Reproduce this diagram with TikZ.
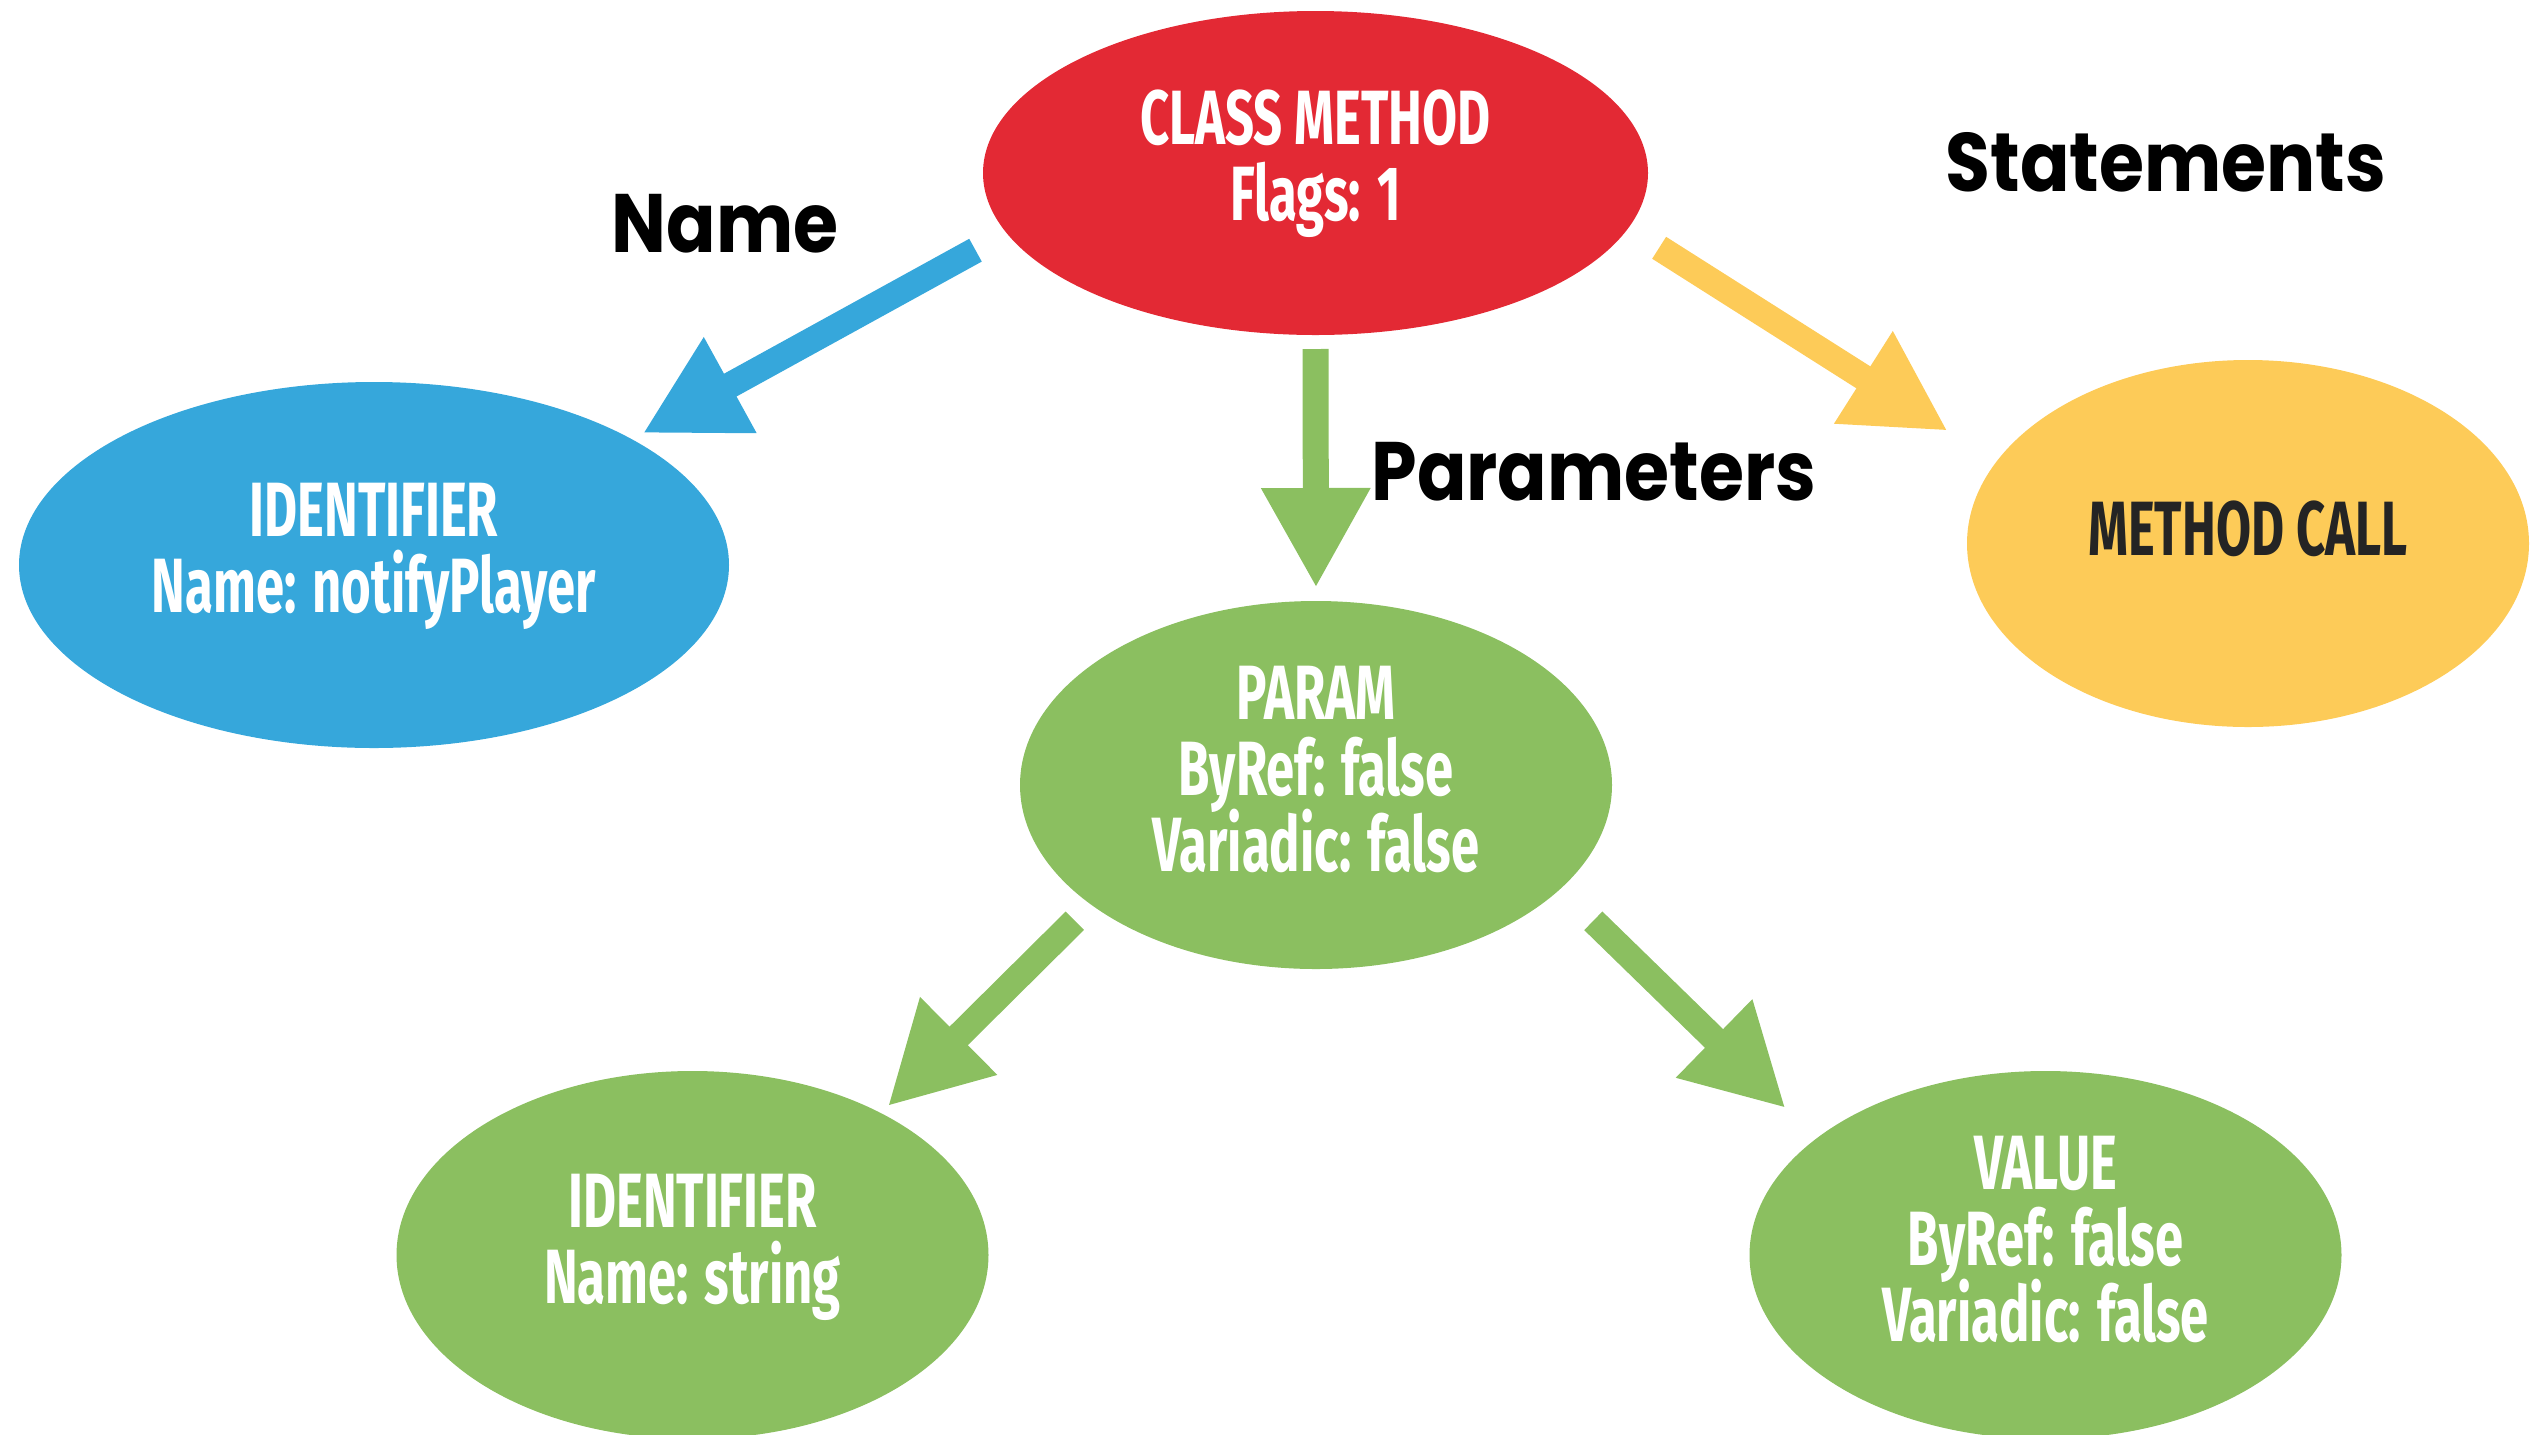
\documentclass[tikz,border=0pt]{standalone}
\usepackage{fontspec}
\usetikzlibrary{shapes.geometric,arrows.meta}
\newfontfamily\nodefont{Fira Sans}[FakeStretch=0.66]
\newfontfamily\labfont{Poppins}[FakeStretch=0.88]
\newcommand\myntfont{\nodefont\bfseries\fontsize{21.9pt}{21.63pt}\selectfont\lineskiplimit -100pt\relax}
\definecolor{cred}{HTML}{E32934}
\definecolor{cblue}{HTML}{36A7DB}
\definecolor{cyellow}{HTML}{FDCB58}
\definecolor{cgreen}{HTML}{8BBF60}
\definecolor{cdark}{HTML}{242424}
\tikzset{
  ell/.style={ellipse, inner sep=0pt, outer sep=0pt, draw=none},
  ntext/.style={inner sep=0pt, outer sep=0pt, align=center, text=white,
    font={\myntfont}},
  lab/.style={inner sep=0pt, outer sep=0pt, text=black,
    font=\labfont\bfseries\fontsize{23.6pt}{28pt}\selectfont},
  arr/.style={line width=2.6mm, -{Triangle[length=10mm,width=10.2mm]}}
}
\begin{document}
\begin{tikzpicture}[x=1cm,y=1cm]
\path[use as bounding box] (0,0) rectangle (25.4,-14.34);
% ellipses
\node[ell, fill=cred, minimum width=6.65cm, minimum height=3.24cm] (red) at (13.155,-1.73) {};
\node[ell, fill=cblue, minimum width=7.10cm, minimum height=3.66cm] (blue) at (3.74,-5.65) {};
\node[ell, fill=cyellow, minimum width=5.62cm, minimum height=3.67cm] (mcall) at (22.48,-5.435) {};
\node[ell, fill=cgreen, minimum width=5.92cm, minimum height=3.68cm] (param) at (13.16,-7.85) {};
\node[ell, fill=cgreen, minimum width=5.92cm, minimum height=3.68cm] (ident) at (6.925,-12.55) {};
\node[ell, fill=cgreen, minimum width=5.92cm, minimum height=3.68cm] (value) at (20.455,-12.55) {};
% texts
\node[ntext, anchor=north] (redT) at ([yshift=8.3mm]red.center) {CLASS METHOD\\Flags: 1};
\node[ntext, anchor=north] (blueT) at ([yshift=8.2mm]blue.center) {IDENTIFIER\\Name: notifyPlayer};
\node[ntext, anchor=north, text=cdark] (mcallT) at ([yshift=4.25mm]mcall.center) {METHOD CALL};
\node[ntext, anchor=north] (paramT) at ([yshift=11.85mm]param.center) {PARAM\\ByRef: false\\Variadic: false};
\node[ntext, anchor=north] (identT) at ([yshift=8.05mm]ident.center) {IDENTIFIER\\Name: string};
\node[ntext, anchor=north] (valueT) at ([yshift=11.85mm]value.center) {VALUE\\ByRef: false\\Variadic: false};
% arrows
\draw[arr, draw=cblue, shorten <=3.56mm, shorten >=1.23mm] (red.191) -- (blue.26);
\draw[arr, draw=cgreen, shorten <=1.4mm, shorten >=1.3mm] (red.south) -- (param.north);
\draw[arr, draw=cyellow, shorten <=3.67mm, shorten >=5.76mm] (red.350) -- (mcall.162);
\draw[arr, draw=cgreen, shorten <=2.29mm, shorten >=0.96mm] (param.208) -- (ident.37);
\draw[arr, draw=cgreen, shorten <=4.59mm, shorten >=4.32mm] (param.337) -- (value.153);
% labels
\node[lab, anchor=base] (lname) at (7.25,-2.52) {Name};
\node[lab, anchor=base] (lparams) at (15.94,-5.00) {Parameters};
\node[lab, anchor=base] (lstmts) at (21.66,-1.91) {Statements};
\end{tikzpicture}
\end{document}
